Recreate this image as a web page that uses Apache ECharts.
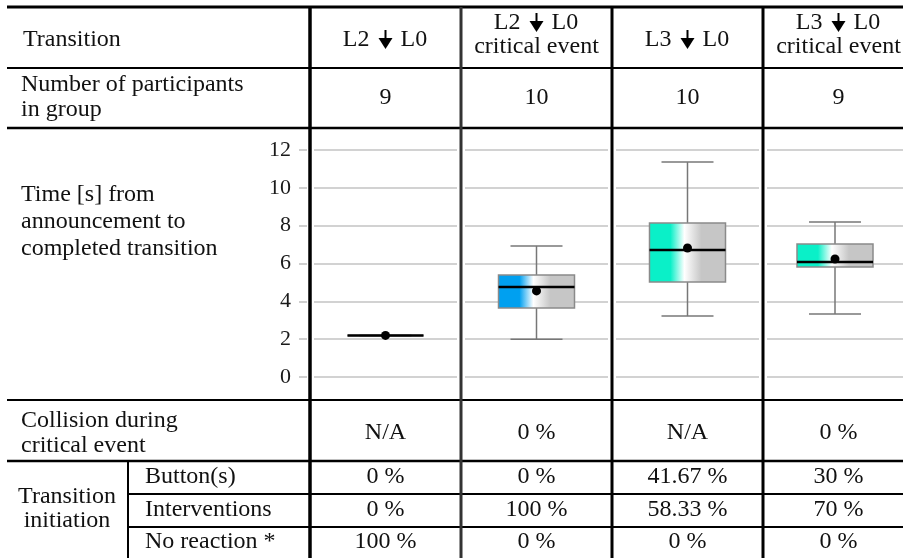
<!DOCTYPE html>
<html>
<head>
<meta charset="utf-8">
<script src="https://cdn.jsdelivr.net/npm/echarts@6/dist/echarts.min.js"></script>
<style>
html,body{margin:0;padding:0;background:#fff;}
#chart{width:903px;height:558px;}
</style>
</head>
<body>
<div id="chart"></div>
<script>
// ---------------- data ----------------
const fromLevel = ['L2', 'L2', 'L3', 'L3'];
const toLevel = ['L0', 'L0', 'L0', 'L0'];
const headerLine2 = ['', 'critical event', '', 'critical event'];
const participants = ['9', '10', '10', '9'];
const boxMin    = [2.2, 2.0, 3.22, 3.33];
const boxQ1     = [2.2, 3.65, 5.02, 5.81];
const boxMedian = [2.2, 4.76, 6.71, 6.08];
const boxQ3     = [2.2, 5.39, 8.14, 7.03];
const boxMax    = [2.2, 6.93, 11.36, 8.19];
const boxMean   = [2.2, 4.55, 6.82, 6.24];
const collision = ['N/A', '0 %', 'N/A', '0 %'];
const buttons = ['0 %', '0 %', '41.67 %', '30 %'];
const interventions = ['0 %', '100 %', '58.33 %', '70 %'];
const noReaction = ['100 %', '0 %', '0 %', '0 %'];
const yMin = 0, yMax = 12, yStep = 2;

// ---------------- layout / style ----------------
const FONT = '"Liberation Serif", "Times New Roman", serif';
const FS = 24;
const colLeft = [310, 461, 612, 763];
const colW = 151;
const rowY = [7, 68, 128, 400, 461, 494, 527, 558];
const subColX = 128;
const boxColors = ['#00a0f0', '#00a0f0', '#0af0c8', '#0af0c8'];
const plotTop = 150, plotBottom = 377;

const chart = echarts.init(document.getElementById('chart'), null, {renderer: 'canvas'});

const grids = [], xAxes = [], yAxes = [], series = [];
for (let i = 0; i < 4; i++) {
  grids.push({left: colLeft[i] + 4, width: colW - 8, top: plotTop, height: plotBottom - plotTop});
  xAxes.push({type: 'category', gridIndex: i, data: [fromLevel[i] + '-' + toLevel[i]], show: false, boundaryGap: true});
  yAxes.push({
    type: 'value', gridIndex: i, min: yMin, max: yMax, interval: yStep,
    offset: i === 0 ? 7 : 0,
    axisLine: {show: false},
    axisTick: {show: i === 0, length: 8, lineStyle: {color: '#cfcfcf', width: 2}},
    axisLabel: {show: i === 0, margin: 16, color: '#1a1a1a', fontFamily: FONT, fontSize: 22},
    splitLine: {show: true, lineStyle: {color: '#d2d2d2', width: 2}}
  });
  const color = boxColors[i];
  series.push({
    type: 'custom', xAxisIndex: i, yAxisIndex: i,
    encode: {x: 0, y: [1, 2, 3, 4, 5, 6]},
    data: [[0, boxMin[i], boxQ1[i], boxMedian[i], boxQ3[i], boxMax[i], boxMean[i]]],
    renderItem: function (params, api) {
      const cx = api.coord([0, api.value(1)])[0];
      const yMn = api.coord([0, api.value(1)])[1];
      const yQ1 = api.coord([0, api.value(2)])[1];
      const yMd = api.coord([0, api.value(3)])[1];
      const yQ3 = api.coord([0, api.value(4)])[1];
      const yMx = api.coord([0, api.value(5)])[1];
      const yMe = api.coord([0, api.value(6)])[1];
      const hw = 38, hc = 26;
      const wh = {stroke: '#777', lineWidth: 1.5};
      return {type: 'group', children: [
        {type: 'line', shape: {x1: cx, y1: yMx, x2: cx, y2: yQ3}, style: wh},
        {type: 'line', shape: {x1: cx, y1: yQ1, x2: cx, y2: yMn}, style: wh},
        {type: 'line', shape: {x1: cx - hc, y1: yMx, x2: cx + hc, y2: yMx}, style: wh},
        {type: 'line', shape: {x1: cx - hc, y1: yMn, x2: cx + hc, y2: yMn}, style: wh},
        {type: 'rect', shape: {x: cx - hw, y: yQ3, width: 2 * hw, height: yQ1 - yQ3},
          style: {fill: new echarts.graphic.LinearGradient(0, 0, 1, 0, [
            {offset: 0, color: color}, {offset: 0.28, color: color},
            {offset: 0.46, color: '#ffffff'}, {offset: 0.68, color: '#c6c6c6'},
            {offset: 1, color: '#c6c6c6'}]), stroke: '#8a8a8a', lineWidth: 1.5}},
        {type: 'line', shape: {x1: cx - hw, y1: yMd, x2: cx + hw, y2: yMd}, style: {stroke: '#000', lineWidth: 2.5}},
        {type: 'circle', shape: {cx: cx, cy: yMe, r: 4.5}, style: {fill: '#000'}}
      ]};
    }
  });
}

// ---------------- table graphics ----------------
const g = [];
function hline(y, x1, x2, w) {
  g.push({type: 'line', shape: {x1: x1, y1: y, x2: x2, y2: y}, style: {stroke: '#000', lineWidth: w}, z: 100});
}
function vline(x, y1, y2, w, c) {
  g.push({type: 'line', shape: {x1: x, y1: y1, x2: x, y2: y2}, style: {stroke: c || '#000', lineWidth: w}, z: 100});
}
function txt(s, x, y, align, lh, fs) {
  g.push({type: 'text', z: 100, style: {text: s, x: x, y: y, font: (fs || FS) + 'px ' + FONT, fill: '#111',
    align: align || 'center', verticalAlign: 'middle', textAlign: align || 'center', textVerticalAlign: 'middle',
    lineHeight: lh || 25}});
}
function arrow(cx, cy) {
  g.push({type: 'rect', z: 100, shape: {x: cx - 1, y: cy - 10, width: 2, height: 9}, style: {fill: '#000'}});
  g.push({type: 'polygon', z: 100, shape: {points: [[cx - 7, cy - 2], [cx + 7, cy - 2], [cx, cy + 9]]}, style: {fill: '#000'}});
}
function header(i, cx, cy) {
  txt(fromLevel[i], cx - 16, cy, 'right');
  txt(toLevel[i], cx + 15, cy, 'left');
  arrow(cx, cy);
}
hline(rowY[0], 7, 910, 3);
hline(rowY[1], 7, 910, 2);
hline(rowY[2], 7, 910, 2.5);
hline(rowY[3], 7, 910, 2);
hline(rowY[4], 7, 910, 2.5);
hline(rowY[5], subColX, 910, 2);
hline(rowY[6], subColX, 910, 2);
vline(colLeft[0], rowY[0], 558, 3.5);
vline(colLeft[1], rowY[0], 558, 3, '#333');
vline(colLeft[2], rowY[0], 558, 3);
vline(colLeft[3], rowY[0], 558, 3);
vline(subColX, rowY[4], 558, 2);

const LX = 21;
txt('Transition', 23, 40, 'left');
txt('Number of participants\nin group', LX, 97, 'left');
txt('Time [s] from\nannouncement to\ncompleted transition', LX, 222, 'left', 27);
txt('Collision during\ncritical event', LX, 433, 'left');
txt('Transition\ninitiation', 67, 509, 'center', 24);
txt('Button(s)', 145, 477, 'left');
txt('Interventions', 145, 510, 'left');
txt('No reaction *', 145, 542, 'left');
for (let i = 0; i < 4; i++) {
  const cx = colLeft[i] + colW / 2;
  if (headerLine2[i]) {
    header(i, cx, 23);
    txt(headerLine2[i], cx, 47);
  } else {
    header(i, cx, 40);
  }
  txt(participants[i], cx, 98);
  txt(collision[i], cx, 433);
  txt(buttons[i], cx, 477);
  txt(interventions[i], cx, 510);
  txt(noReaction[i], cx, 542);
}

chart.setOption({
  animation: false,
  grid: grids, xAxis: xAxes, yAxis: yAxes, series: series,
  graphic: {elements: g}
});
</script>
</body>
</html>
